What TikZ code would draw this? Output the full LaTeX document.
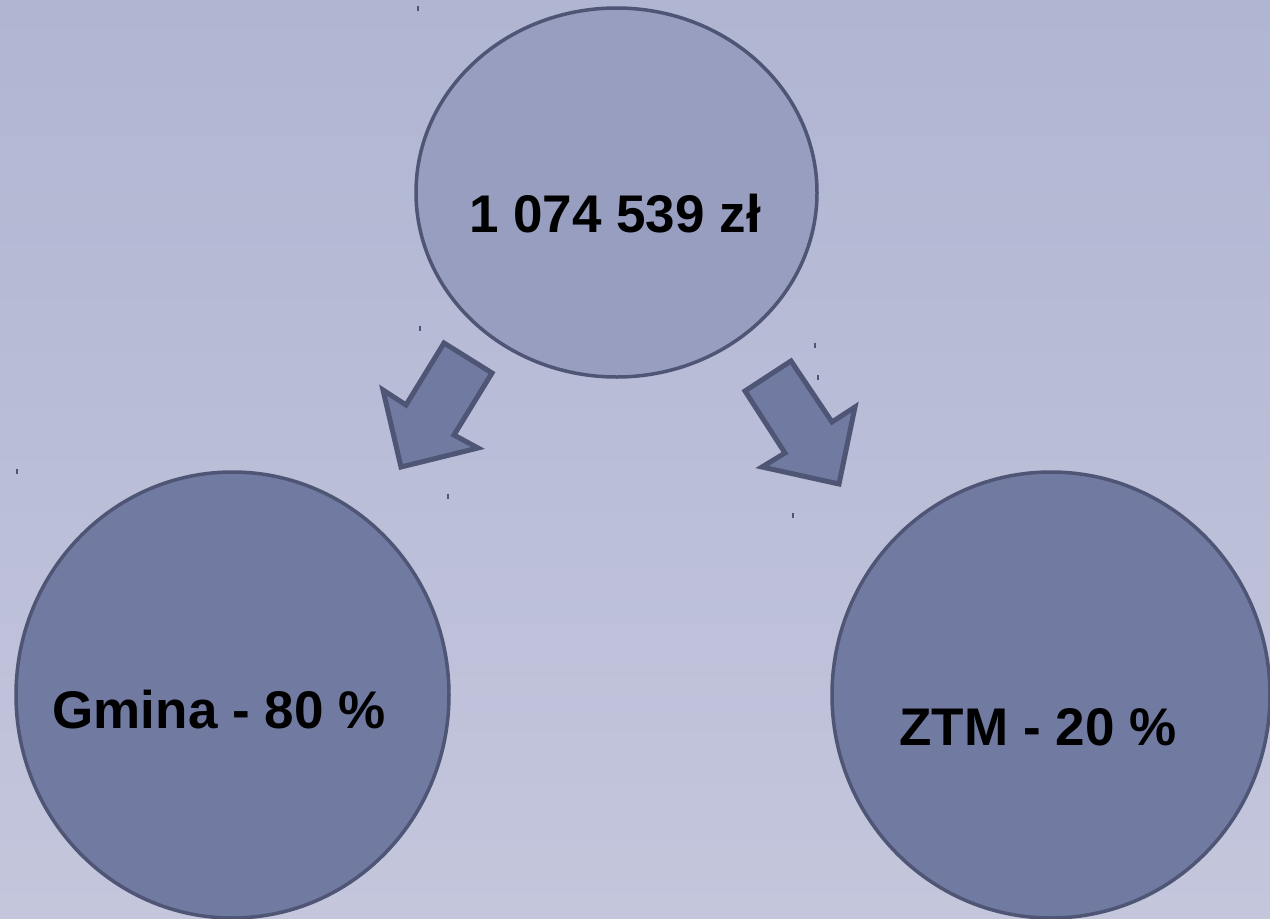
\documentclass[tikz,border=0pt]{standalone}
\usepackage{fontspec}
\setmainfont{Liberation Sans}
\usetikzlibrary{shapes.geometric}
\definecolor{bgtop}{HTML}{B0B5D2}
\definecolor{bgbot}{HTML}{C4C6DC}
\definecolor{topfill}{HTML}{989EBF}
\definecolor{lowfill}{HTML}{717AA0}
\definecolor{edge}{HTML}{4E5575}
\tikzset{
  bubble/.style={ellipse, draw=edge, line width=3.5pt, inner sep=0pt},
  label/.style={anchor=base, font=\fontsize{53}{58}\selectfont\bfseries, text=black, inner sep=0pt},
  blockarrow/.style={fill=lowfill, draw=edge, line width=5pt, line join=miter},
  tick/.style={draw=edge, line width=1.2pt}
}
\begin{document}
\begin{tikzpicture}[x=1pt,y=-1pt]
\useasboundingbox (0,0) rectangle (1270,919);
\shade[top color=bgtop, bottom color=bgbot] (0,0) rectangle (1270,919);
% circles
\node[bubble, fill=topfill, minimum width=401pt, minimum height=369pt] (top) at (616.5,192.5) {};
\node[bubble, fill=lowfill, minimum width=433pt, minimum height=446pt] (gmina) at (232.5,695) {};
\node[bubble, fill=lowfill, minimum width=438pt, minimum height=446pt] (ztm) at (1051,695) {};
% texts
\node[label] (ttop) at (615,232) {1 074 539 zł};
\node[label] (tgmina) at (219,728) {Gmina - 80 \%};
\node[label] (tztm) at (1038,745) {ZTM - 20 \%};
% block arrows
\draw[blockarrow] (444,343) -- (492,373) -- (454,435) -- (478,448) -- (401,467) -- (383,390) -- (406,405) -- cycle;
\draw[blockarrow] (745,391) -- (791,361) -- (832,422) -- (855,407) -- (839,484) -- (762,467) -- (785,453) -- cycle;
% small tick marks
\foreach \x/\y in {418/8, 420/328, 815/345, 818/377, 17/471, 448/496, 793/515}
  \draw[tick] (\x,\y-2.5) -- (\x,\y+2.5);
\end{tikzpicture}
\end{document}
